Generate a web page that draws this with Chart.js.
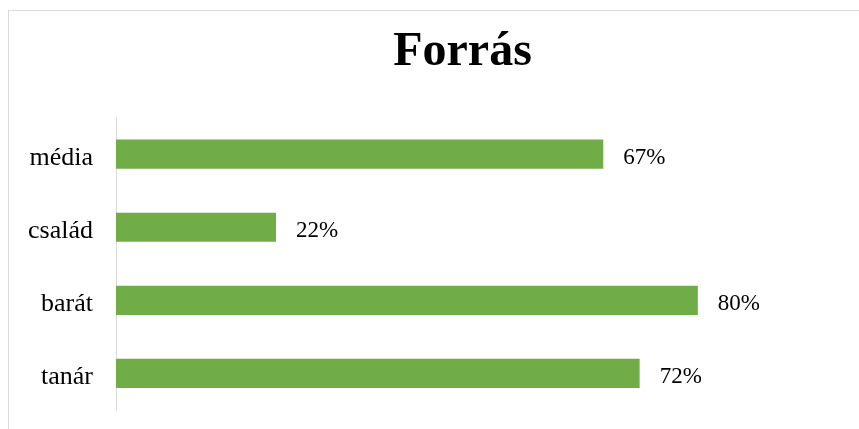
<!DOCTYPE html>
<html>
<head>
<meta charset="utf-8">
<script src="https://cdn.jsdelivr.net/npm/chart.js@4/dist/chart.umd.min.js"></script>
<style>
  html, body { margin: 0; padding: 0; background: #fff; overflow: hidden; }
  #frame { position: relative; width: 859px; height: 429px; overflow: hidden; }
  #wrap { position: absolute; left: 8px; top: 10px; width: 911px; border-left: 1px solid #d9d9d9; border-top: 1px solid #d9d9d9; }
  canvas { display: block; }
</style>
</head>
<body>
<div id="frame"><div id="wrap"><canvas id="Chart1" width="910" height="418"></canvas></div></div>
<script>
var categories = ["média", "család", "barát", "tanár"];
var shares = [0.67, 0.22, 0.80, 0.72];
var chartTitle = "Forrás";

// value labels next to each bar, like Excel data labels
var valueLabels = {
    id: 'valueLabels',
    afterDatasetsDraw: function(chart){
        var ctx = chart.ctx;
        var meta = chart.getDatasetMeta(0);
        ctx.save();
        ctx.font = '23px "Liberation Serif", "Times New Roman", serif';
        ctx.fillStyle = '#000';
        ctx.textAlign = 'left';
        ctx.textBaseline = 'middle';
        meta.data.forEach(function(bar, i){
            var txt = Math.round(shares[i] * 100) + '%';
            ctx.fillText(txt, bar.x + 20, bar.y + 4);
        });
        ctx.restore();
    }
};

var ctxB = document.getElementById("Chart1").getContext('2d');
var myBarChart = new Chart(ctxB, {
    type: 'bar',
    data: {
        labels: categories,
        datasets: [{
            data: shares,
            backgroundColor: "#70AD47",
            borderWidth: 0,
            categoryPercentage: 1,
            barPercentage: 0.4
        }]
    },
    options: {
        indexAxis: 'y',
        responsive: false,
        animation: false,
        layout: {
            padding: { left: 0, right: 3, top: 0, bottom: 19 }
        },
        plugins: {
            legend: { display: false },
            tooltip: { enabled: false },
            title: {
                display: true,
                text: chartTitle,
                color: '#000',
                font: { family: '"Liberation Serif", "Times New Roman", serif', size: 48, weight: 'bold', lineHeight: 1.2 },
                padding: { top: 13, bottom: 36 }
            }
        },
        scales: {
            x: {
                display: false,
                min: 0,
                max: 1.1
            },
            y: {
                afterFit: function(scale){
                    scale.width = 107;
                    scale.paddingTop = 0;
                    scale.paddingBottom = 0;
                },
                grid: { display: false, drawTicks: false },
                border: { display: true, color: '#d9d9d9', width: 1 },
                ticks: {
                    color: '#000',
                    padding: 23,
                    labelOffset: 4,
                    font: { family: '"Liberation Serif", "Times New Roman", serif', size: 26 }
                }
            }
        }
    },
    plugins: [valueLabels]
});
</script>
</body>
</html>
